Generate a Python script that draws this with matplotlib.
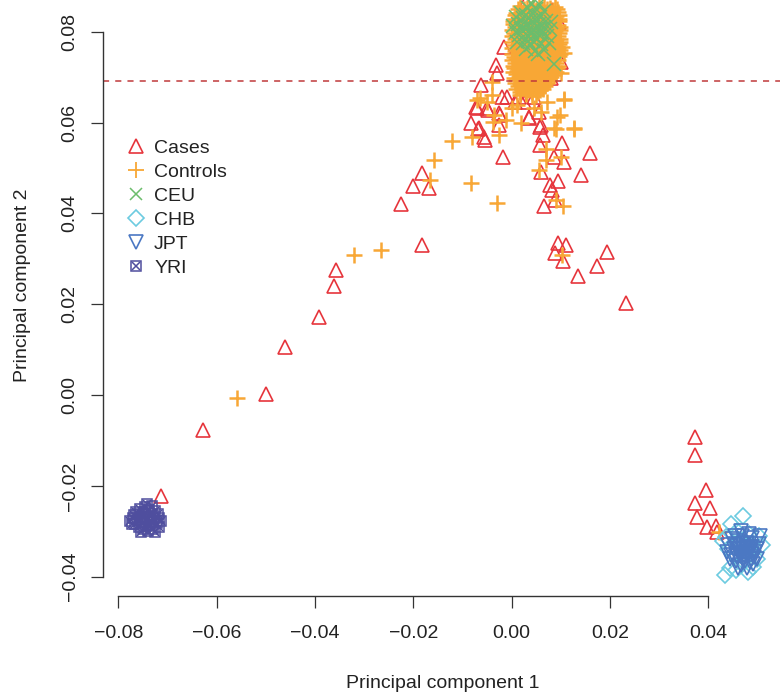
import matplotlib
matplotlib.use("Agg")
import matplotlib.pyplot as plt
import numpy as np
from matplotlib.lines import Line2D
from matplotlib.legend_handler import HandlerTuple

plt.rcParams['font.family'] = ['Liberation Sans', 'DejaVu Sans']

# --- data (PC1, PC2) ---
cases = [
    (-0.0713, -0.0222), (-0.0627, -0.0077), (-0.0499, 0.0002), (-0.0460, 0.0106),
    (-0.0391, 0.0172), (-0.0361, 0.0240), (-0.0357, 0.0275), (-0.0182, 0.0330),
    (-0.0224, 0.0421), (-0.0200, 0.0460), (-0.0182, 0.0489), (-0.0167, 0.0456),
    (-0.0062, 0.0683), (-0.0070, 0.0632), (-0.0047, 0.0628), (-0.0082, 0.0599),
    (-0.0068, 0.0586), (-0.0025, 0.0595), (-0.0054, 0.0562), (-0.0017, 0.0524),
    (-0.0023, 0.0617), (0.0036, 0.0610), (0.0058, 0.0590), (0.0063, 0.0573),
    (0.0058, 0.0551), (0.0103, 0.0555), (0.0160, 0.0533), (0.0087, 0.0524),
    (0.0107, 0.0513), (0.0060, 0.0491), (0.0142, 0.0485), (0.0095, 0.0471),
    (0.0079, 0.0463), (0.0083, 0.0451), (0.0089, 0.0429), (0.0065, 0.0416),
    (0.0095, 0.0335), (0.0111, 0.0330), (0.0089, 0.0313), (0.0105, 0.0295),
    (0.0195, 0.0315), (0.0174, 0.0284), (0.0136, 0.0262), (0.0233, 0.0203),
    (0.0374, -0.0093), (0.0374, -0.0132), (0.0396, -0.0209), (0.0374, -0.0238),
    (0.0404, -0.0249), (0.0378, -0.0269), (0.0398, -0.0291), (0.0416, -0.0289),
    (0.0418, -0.0302),
    (-0.0029, 0.0709), (-0.0031, 0.0727), (-0.0072, 0.0634), (-0.0049, 0.0632),
    (-0.0066, 0.0588), (-0.0025, 0.0621), (0.0036, 0.0612), (0.0060, 0.0595),
    (-0.0056, 0.0568), (-0.0015, 0.0766), (0.0101, 0.0733), (0.0081, 0.0698),
    (-0.0009, 0.0656), (0.0006, 0.0645), (0.0046, 0.0656), (0.0026, 0.0645),
    (0.0083, 0.0848), (0.0030, 0.0865), (0.0097, 0.0821), (0.0016, 0.0656),
    (0.0056, 0.0623), (-0.0019, 0.0656),
]

controls = [
    (-0.0558, -0.0007), (-0.0320, 0.0308), (-0.0265, 0.0319), (-0.0165, 0.0473),
    (-0.0157, 0.0517), (-0.0082, 0.0467), (-0.0121, 0.0559), (-0.0080, 0.0568),
    (-0.0029, 0.0423), (-0.0064, 0.0654), (-0.0039, 0.0661), (0.0107, 0.0652),
    (0.0099, 0.0617), (0.0127, 0.0586), (0.0091, 0.0586), (0.0020, 0.0599),
    (-0.0037, 0.0601), (0.0071, 0.0542), (0.0069, 0.0517), (0.0101, 0.0524),
    (0.0056, 0.0495), (0.0091, 0.0429), (0.0105, 0.0416), (0.0103, 0.0308),
    (0.0422, -0.0302), (-0.0039, 0.0689), (-0.0051, 0.0645), (-0.0070, 0.0650),
    (-0.0035, 0.0617), (-0.0011, 0.0606), (0.0001, 0.0632), (0.0012, 0.0639),
    (0.0046, 0.0632), (0.0060, 0.0623), (0.0101, 0.0709), (0.0107, 0.0650),
    (0.0093, 0.0612), (0.0127, 0.0588), (0.0087, 0.0588), (0.0073, 0.0645),
    (0.0107, 0.0753), (0.0103, 0.0766), (-0.0025, 0.0573),
    # dense cloud at the top
    (0.0018, 0.0856), (0.0031, 0.0853), (0.0043, 0.0857), (0.0055, 0.0854), (0.0066, 0.0856), (0.0078, 0.0853), (0.0088, 0.0855),
    (0.0013, 0.0849), (0.0025, 0.0849), (0.0037, 0.0850), (0.0049, 0.0848), (0.0061, 0.0849), (0.0073, 0.0850), (0.0085, 0.0848), (0.0092, 0.0849),
    (0.0010, 0.0842), (0.0023, 0.0844), (0.0034, 0.0841), (0.0047, 0.0843), (0.0058, 0.0840), (0.0071, 0.0843), (0.0082, 0.0841), (0.0094, 0.0843),
    (0.0007, 0.0836), (0.0019, 0.0835), (0.0031, 0.0837), (0.0043, 0.0836), (0.0055, 0.0835), (0.0067, 0.0837), (0.0079, 0.0836), (0.0091, 0.0835), (0.0096, 0.0837),
    (0.0004, 0.0829), (0.0016, 0.0831), (0.0029, 0.0828), (0.0040, 0.0830), (0.0053, 0.0827), (0.0064, 0.0830), (0.0077, 0.0828), (0.0088, 0.0831), (0.0097, 0.0828),
    (0.0003, 0.0823), (0.0013, 0.0822), (0.0025, 0.0824), (0.0037, 0.0823), (0.0049, 0.0822), (0.0061, 0.0824), (0.0073, 0.0823), (0.0085, 0.0822), (0.0097, 0.0824),
    (0.0002, 0.0816), (0.0011, 0.0818), (0.0022, 0.0815), (0.0035, 0.0817), (0.0046, 0.0814), (0.0059, 0.0817), (0.0070, 0.0815), (0.0083, 0.0818), (0.0094, 0.0815),
    (0.0006, 0.0810), (0.0019, 0.0809), (0.0031, 0.0811), (0.0043, 0.0810), (0.0055, 0.0809), (0.0067, 0.0811), (0.0079, 0.0810), (0.0091, 0.0809), (0.0099, 0.0811),
    (0.0001, 0.0803), (0.0016, 0.0801), (0.0028, 0.0804), (0.0041, 0.0802), (0.0052, 0.0805), (0.0065, 0.0802), (0.0076, 0.0804), (0.0089, 0.0801), (0.0099, 0.0803),
    (0.0004, 0.0797), (0.0013, 0.0796), (0.0025, 0.0798), (0.0037, 0.0797), (0.0049, 0.0796), (0.0061, 0.0798), (0.0073, 0.0797), (0.0085, 0.0796), (0.0097, 0.0798),
    (0.0000, 0.0790), (0.0010, 0.0792), (0.0023, 0.0789), (0.0034, 0.0791), (0.0047, 0.0788), (0.0058, 0.0791), (0.0071, 0.0789), (0.0082, 0.0792), (0.0095, 0.0790),
    (0.0006, 0.0784), (0.0019, 0.0783), (0.0031, 0.0785), (0.0043, 0.0784), (0.0055, 0.0783), (0.0067, 0.0785), (0.0079, 0.0784), (0.0091, 0.0783), (0.0099, 0.0785),
    (0.0001, 0.0777), (0.0017, 0.0779), (0.0028, 0.0776), (0.0041, 0.0778), (0.0052, 0.0775), (0.0065, 0.0778), (0.0076, 0.0776), (0.0089, 0.0779), (0.0099, 0.0777),
    (0.0004, 0.0771), (0.0013, 0.0770), (0.0025, 0.0772), (0.0037, 0.0771), (0.0049, 0.0770), (0.0061, 0.0772), (0.0073, 0.0771), (0.0085, 0.0770), (0.0097, 0.0772),
    (0.0000, 0.0764), (0.0011, 0.0762), (0.0022, 0.0765), (0.0035, 0.0763), (0.0046, 0.0766), (0.0059, 0.0763), (0.0070, 0.0765), (0.0083, 0.0762), (0.0094, 0.0764),
    (0.0006, 0.0758), (0.0019, 0.0757), (0.0031, 0.0759), (0.0043, 0.0758), (0.0055, 0.0757), (0.0067, 0.0759), (0.0079, 0.0758), (0.0091, 0.0757), (0.0099, 0.0759),
    (0.0001, 0.0751), (0.0016, 0.0753), (0.0029, 0.0750), (0.0040, 0.0752), (0.0053, 0.0749), (0.0064, 0.0752), (0.0077, 0.0750), (0.0088, 0.0753), (0.0099, 0.0751),
    (0.0004, 0.0745), (0.0013, 0.0744), (0.0025, 0.0746), (0.0037, 0.0745), (0.0049, 0.0744), (0.0061, 0.0746), (0.0073, 0.0745), (0.0085, 0.0744), (0.0097, 0.0746),
    (0.0000, 0.0738), (0.0010, 0.0740), (0.0023, 0.0737), (0.0034, 0.0739), (0.0047, 0.0736), (0.0058, 0.0739), (0.0071, 0.0737), (0.0082, 0.0740), (0.0094, 0.0738),
    (0.0006, 0.0732), (0.0019, 0.0731), (0.0031, 0.0733), (0.0043, 0.0732), (0.0055, 0.0731), (0.0067, 0.0733), (0.0079, 0.0732), (0.0091, 0.0731),
    (0.0002, 0.0725), (0.0016, 0.0723), (0.0029, 0.0726), (0.0040, 0.0724), (0.0053, 0.0727), (0.0064, 0.0724), (0.0077, 0.0726), (0.0088, 0.0723), (0.0095, 0.0725),
    (0.0005, 0.0719), (0.0013, 0.0718), (0.0025, 0.0720), (0.0037, 0.0719), (0.0049, 0.0718), (0.0061, 0.0720), (0.0073, 0.0719), (0.0085, 0.0718), (0.0092, 0.0720),
    (0.0002, 0.0712), (0.0011, 0.0714), (0.0022, 0.0711), (0.0035, 0.0713), (0.0046, 0.0710), (0.0059, 0.0713), (0.0070, 0.0711), (0.0083, 0.0714), (0.0090, 0.0712),
    (0.0008, 0.0706), (0.0019, 0.0705), (0.0031, 0.0707), (0.0043, 0.0706), (0.0055, 0.0705), (0.0067, 0.0707), (0.0079, 0.0706), (0.0086, 0.0705),
    (0.0004, 0.0699), (0.0016, 0.0701), (0.0029, 0.0698), (0.0040, 0.0700), (0.0053, 0.0697), (0.0064, 0.0700), (0.0076, 0.0698), (0.0081, 0.0701),
    (0.0010, 0.0693), (0.0022, 0.0692), (0.0034, 0.0694), (0.0046, 0.0693), (0.0058, 0.0692), (0.0070, 0.0694), (0.0077, 0.0693),
    (0.0006, 0.0686), (0.0018, 0.0684), (0.0031, 0.0687), (0.0042, 0.0685), (0.0055, 0.0688), (0.0066, 0.0685), (0.0073, 0.0687),
    (0.0013, 0.0680), (0.0025, 0.0679), (0.0037, 0.0681), (0.0049, 0.0680), (0.0061, 0.0679), (0.0068, 0.0681),
    (0.0010, 0.0673), (0.0022, 0.0675), (0.0034, 0.0672), (0.0047, 0.0674), (0.0058, 0.0671), (0.0063, 0.0674),
    (0.0018, 0.0667), (0.0030, 0.0666), (0.0042, 0.0668), (0.0054, 0.0667),
    (0.0017, 0.0660), (0.0029, 0.0662), (0.0041, 0.0659), (0.0050, 0.0661),
]

ceu = [
    (0.0042, 0.0800), (0.0036, 0.0812), (0.0050, 0.0806), (0.0030, 0.0795), (0.0046, 0.0790),
    (0.0056, 0.0818), (0.0040, 0.0826), (0.0026, 0.0820), (0.0062, 0.0798), (0.0052, 0.0784),
    (0.0034, 0.0780), (0.0020, 0.0806), (0.0066, 0.0810), (0.0044, 0.0838), (0.0030, 0.0836),
    (0.0058, 0.0832), (0.0070, 0.0824), (0.0014, 0.0818), (0.0016, 0.0792), (0.0024, 0.0776),
    (0.0040, 0.0770), (0.0060, 0.0772), (0.0072, 0.0790), (0.0078, 0.0806), (0.0050, 0.0850),
    (0.0034, 0.0852), (0.0020, 0.0842), (0.0066, 0.0846), (0.0010, 0.0832), (0.0008, 0.0800),
    (0.0012, 0.0778), (0.0030, 0.0762), (0.0048, 0.0758), (0.0066, 0.0760), (0.0076, 0.0776),
    (0.0080, 0.0822), (0.0056, 0.0862), (0.0040, 0.0864), (0.0087, 0.0729), (0.0054, 0.0750),
    (0.0002, 0.0812), (0.0046, 0.0818), (0.0038, 0.0798), (0.0054, 0.0796), (0.0026, 0.0808),
    (0.0048, 0.0828), (0.0034, 0.0790), (0.0058, 0.0808), (0.0044, 0.0780), (0.0024, 0.0830),
]

chb = [
    (0.0471, -0.0267), (0.0447, -0.0285), (0.0435, -0.0396), (0.0482, -0.0306), (0.0503, -0.0310),
    (0.0437, -0.0313), (0.0457, -0.0386), (0.0480, -0.0390), (0.0445, -0.0380), (0.0465, -0.0320),
    (0.0490, -0.0330), (0.0452, -0.0350), (0.0475, -0.0360), (0.0500, -0.0362), (0.0440, -0.0340),
    (0.0468, -0.0372), (0.0492, -0.0378), (0.0458, -0.0300), (0.0510, -0.0330), (0.0430, -0.0322),
]

jpt = [
    (0.0473, -0.0346), (0.0465, -0.0338), (0.0481, -0.0352), (0.0458, -0.0355), (0.0488, -0.0334),
    (0.0470, -0.0362), (0.0478, -0.0325), (0.0460, -0.0322), (0.0495, -0.0345), (0.0452, -0.0340),
    (0.0484, -0.0368), (0.0466, -0.0374), (0.0499, -0.0360), (0.0446, -0.0352), (0.0490, -0.0315),
    (0.0468, -0.0310), (0.0455, -0.0310), (0.0503, -0.0328), (0.0441, -0.0330), (0.0476, -0.0336),
    (0.0462, -0.0348), (0.0486, -0.0342), (0.0474, -0.0356), (0.0492, -0.0372), (0.0456, -0.0366),
    (0.0506, -0.0310), (0.0483, -0.0306), (0.0448, -0.0318), (0.0438, -0.0345), (0.0470, -0.0328),
    (0.0494, -0.0356), (0.0461, -0.0380), (0.0479, -0.0380), (0.0452, -0.0328), (0.0500, -0.0340),
    (0.0444, -0.0362), (0.0466, -0.0300), (0.0488, -0.0360), (0.0478, -0.0344), (0.0458, -0.0332),
    (0.0470, -0.0340), (0.0480, -0.0350), (0.0465, -0.0355), (0.0485, -0.0335), (0.0475, -0.0365),
    (0.0460, -0.0340), (0.0490, -0.0350),
]

yri = [
    (-0.0741, -0.0271), (-0.0748, -0.0262), (-0.0734, -0.0280), (-0.0755, -0.0276), (-0.0728, -0.0266),
    (-0.0744, -0.0288), (-0.0737, -0.0254), (-0.0760, -0.0262), (-0.0722, -0.0282), (-0.0750, -0.0296),
    (-0.0730, -0.0294), (-0.0765, -0.0284), (-0.0718, -0.0270), (-0.0745, -0.0246), (-0.0756, -0.0250),
    (-0.0732, -0.0244), (-0.0770, -0.0270), (-0.0776, -0.0278), (-0.0717, -0.0290), (-0.0740, -0.0300),
    (-0.0758, -0.0290), (-0.0725, -0.0256), (-0.0763, -0.0258), (-0.0748, -0.0280), (-0.0736, -0.0268),
    (-0.0752, -0.0268), (-0.0726, -0.0302), (-0.0742, -0.0240), (-0.0768, -0.0264), (-0.0714, -0.0278),
    (-0.0772, -0.0284), (-0.0735, -0.0286), (-0.0746, -0.0258), (-0.0720, -0.0262), (-0.0754, -0.0302),
]

threshold = 0.0691
xticks = [-0.08, -0.06, -0.04, -0.02, 0.00, 0.02, 0.04]
xtick_labels = ['\u22120.08', '\u22120.06', '\u22120.04', '\u22120.02', '0.00', '0.02', '0.04']
yticks = [-0.04, -0.02, 0.00, 0.02, 0.04, 0.06, 0.08]
ytick_labels = ['\u22120.04', '\u22120.02', '0.00', '0.02', '0.04', '0.06', '0.08']

c_case = '#e6353c'
c_ctrl = '#f8a735'
c_ceu = '#6cbd6c'
c_chb = '#6ccbe0'
c_jpt = '#4b78c3'
c_yri = '#4f4e9e'

fig = plt.figure(figsize=(7.8, 6.96), dpi=100)
ax = fig.add_axes([103 / 780, 100 / 696, 677 / 780, 596 / 696])


def xy(pts):
    a = np.array(pts)
    return a[:, 0], a[:, 1]


x, y = xy(cases)
ax.plot(x, y, ls='none', marker='^', ms=10, mfc='none', mec=c_case, mew=1.2)
x, y = xy(controls)
ax.plot(x, y, ls='none', marker='+', ms=12, mec=c_ctrl, mew=1.8)
x, y = xy(ceu)
ax.plot(x, y, ls='none', marker='x', ms=10, mec=c_ceu, mew=1.1)
x, y = xy(chb)
ax.plot(x, y, ls='none', marker='D', ms=8, mfc='none', mec=c_chb, mew=1.2)
x, y = xy(jpt)
ax.plot(x, y, ls='none', marker='v', ms=10, mfc='none', mec=c_jpt, mew=1.2)
x, y = xy(yri)
ax.plot(x, y, ls='none', marker='s', ms=7, mfc='none', mec=c_yri, mew=1.1)
ax.plot(x, y, ls='none', marker='x', ms=6, mec=c_yri, mew=1.1)

ax.axhline(threshold, color='#c0393b', lw=1.1, ls=(0, (4, 4)))

ax.set_xlim(-0.08311, 0.05460)
ax.set_ylim(-0.04425, 0.08698)
for s in ['top', 'right']:
    ax.spines[s].set_visible(False)
ax.spines['left'].set_bounds(-0.04, 0.08)
ax.spines['bottom'].set_bounds(-0.08, 0.04)
for s in ['left', 'bottom']:
    ax.spines[s].set_color('#333333')
    ax.spines[s].set_linewidth(1.0)

ax.set_xticks(xticks, xtick_labels)
ax.set_yticks(yticks, ytick_labels)
ax.tick_params(axis='both', direction='out', length=8.6, width=0.9, color='#333333',
               labelsize=14, labelcolor='#222222')
ax.tick_params(axis='x', pad=12.5)
ax.tick_params(axis='y', pad=9, labelrotation=90)
for lab in ax.get_yticklabels():
    lab.set_va('center')

ax.set_xlabel('Principal component 1', fontsize=14, color='#222222')
ax.set_ylabel('Principal component 2', fontsize=14, color='#222222')
ax.xaxis.set_label_coords(0.502, -0.132)
ax.yaxis.set_label_coords(-0.106, 0.522)

h_case = Line2D([], [], ls='none', marker='^', ms=10, mfc='none', mec=c_case, mew=1.2)
h_ctrl = Line2D([], [], ls='none', marker='+', ms=12, mec=c_ctrl, mew=1.3)
h_ceu = Line2D([], [], ls='none', marker='x', ms=9, mec=c_ceu, mew=1.1)
h_chb = Line2D([], [], ls='none', marker='D', ms=8, mfc='none', mec=c_chb, mew=1.2)
h_jpt = Line2D([], [], ls='none', marker='v', ms=10, mfc='none', mec=c_jpt, mew=1.2)
h_yri_s = Line2D([], [], ls='none', marker='s', ms=7, mfc='none', mec=c_yri, mew=1.1)
h_yri_x = Line2D([], [], ls='none', marker='x', ms=6, mec=c_yri, mew=1.1)
ax.legend([h_case, h_ctrl, h_ceu, h_chb, h_jpt, (h_yri_s, h_yri_x)],
          ['Cases', 'Controls', 'CEU', 'CHB', 'JPT', 'YRI'],
          handler_map={tuple: HandlerTuple(ndivide=1, pad=0)},
          loc='upper left', bbox_to_anchor=(0.0344, 0.7668), frameon=False,
          fontsize=14, handlelength=1.0, handletextpad=0.43, labelspacing=0.33,
          borderpad=0, borderaxespad=0, labelcolor='#222222')

fig.savefig('out.png', dpi=100)
